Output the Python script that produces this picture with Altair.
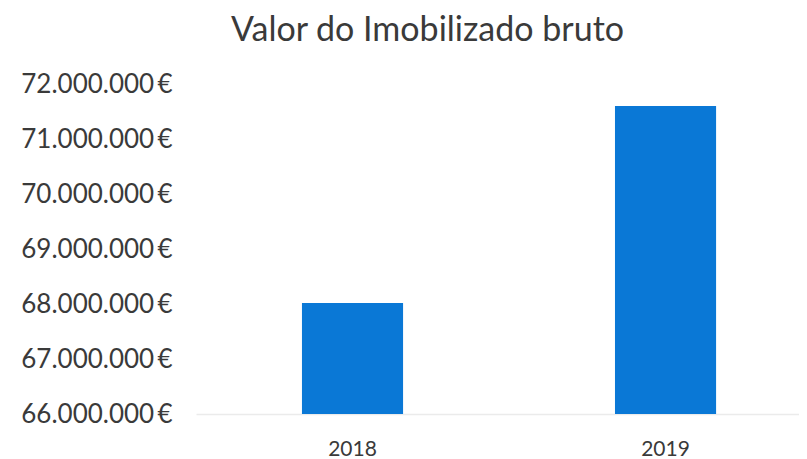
import altair as alt
import pandas as pd

years = ["2018", "2019"]
values = [68020000, 71600000]
y_ticks = [66000000, 67000000, 68000000, 69000000, 70000000, 71000000, 72000000]

df = pd.DataFrame({"ano": years, "valor": values})

label_expr = "replace(replace(format(datum.value, ',.0f'), ',', '.'), ',', '.') + '\u2009€'"

chart = alt.Chart(df).mark_bar(color="#0a78d6", clip=True).encode(
    x=alt.X("ano:N", sort=years, title=None,
            scale=alt.Scale(paddingInner=0.677, paddingOuter=0.3017, align=0.561),
            axis=alt.Axis(labelAngle=0, labelFont="Lato", labelFontSize=21,
                          labelColor="#3a3a3a", ticks=False, domainColor="#ebebeb",
                          domainWidth=1.5, labelPadding=24)),
    y=alt.Y("valor:Q", title=None,
            scale=alt.Scale(domain=[66000000, 72000000], zero=False, nice=False),
            axis=alt.Axis(values=y_ticks, labelExpr=label_expr, grid=False, ticks=False,
                          domain=False, labelFont="Lato", labelFontSize=26,
                          labelColor="#3a3a3a", labelPadding=24)),
).properties(
    width=603,
    height=330,
    padding={"left": 188, "top": 76, "right": 0, "bottom": 45},
    autosize=alt.AutoSizeParams(type="none"),
    title=alt.TitleParams("Valor do Imobilizado bruto", font="Lato", fontSize=34,
                          fontWeight="normal", color="#3a3a3a", dx=-70, offset=23),
).configure_view(stroke=None)

chart.save("out.html", embed_options={"renderer": "svg", "actions": False})
